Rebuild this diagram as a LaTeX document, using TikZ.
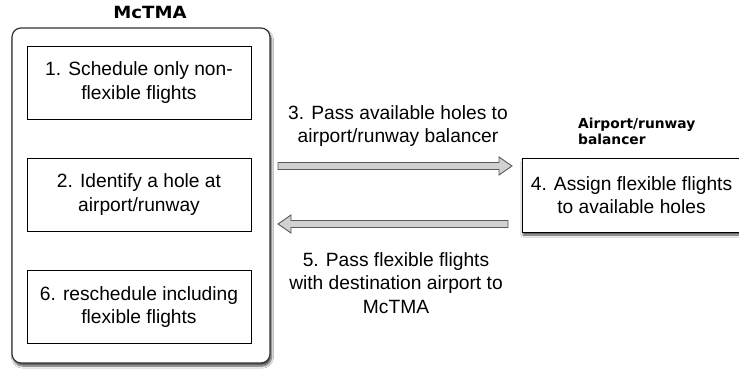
\documentclass[tikz,border=0pt]{standalone}
\usepackage{fontspec}
\setmainfont{Liberation Sans}
\newfontfamily\ttlfont[FakeStretch=1.08]{DejaVu Sans}
\newfontfamily\subfont{DejaVu Sans}
\usetikzlibrary{calc,shadows.blur}
\newcommand{\bodyfont}{\fontsize{19.2}{23.5}\selectfont}
\begin{document}
\begin{tikzpicture}[x=1pt,y=-1pt,
  panel/.style={draw=black!80, line width=1.2pt, rounded corners=9pt, fill=white,
    blur shadow={shadow xshift=1.5pt, shadow yshift=-3pt, shadow blur steps=6, shadow opacity=70}},
  stepbox/.style={draw=black, line width=0.8pt, fill=white, minimum width=224pt,
    minimum height=73pt, inner sep=0pt, align=center, font=\bodyfont},
  shadowed/.style={blur shadow={shadow xshift=1pt, shadow yshift=-3pt, shadow blur steps=6, shadow opacity=70}},
  lbl/.style={inner sep=0pt, align=center, font=\bodyfont},
  bigarrow/.style={draw=black!65, fill=black!18, line width=0.9pt, line join=miter},
]
\useasboundingbox (0,0) rectangle (739,377);
\clip (0,0) rectangle (739,377);
\fill[white] (0,0) rectangle (739,377);

% McTMA panel
\node[panel, minimum width=258pt, minimum height=335pt, inner sep=0pt] (mctma) at (141,195.5) {};
\node[inner sep=0pt, font=\ttlfont\bfseries\fontsize{16.8}{18}\selectfont] (mctmat) at (150,12) {McTMA};

\node[stepbox] (s1) at (139,82.5) {1. Schedule only non-\\flexible flights};
\node[stepbox] (s2) at (139,194.5) {2. Identify a hole at\\airport/runway};
\node[stepbox] (s6) at (139,307) {6. reschedule including\\flexible flights};

% balancer
\node[stepbox, shadowed, minimum width=219pt, minimum height=74pt] (bal) at (631.5,195) {4. Assign flexible flights\\to available holes};
\node[inner sep=0pt, anchor=west, align=left, font=\subfont\bfseries\fontsize{13.8}{16}\selectfont] (balt) at (578,131) {Airport/runway\\balancer};

% arrows
\coordinate (r1) at (278,166);
\coordinate (r2) at (512,166);
\coordinate (l1) at (508,224);
\coordinate (l2) at (278,224);
\draw[bigarrow] ($(r1)+(0,-3.5)$) -- ($(r2)+(-13,-3.5)$) -- ($(r2)+(-13,-9)$) -- (r2)
  -- ($(r2)+(-13,9)$) -- ($(r2)+(-13,3.5)$) -- ($(r1)+(0,3.5)$) -- cycle;
\draw[bigarrow] ($(l1)+(0,-3.5)$) -- ($(l2)+(13,-3.5)$) -- ($(l2)+(13,-9)$) -- (l2)
  -- ($(l2)+(13,9)$) -- ($(l2)+(13,3.5)$) -- ($(l1)+(0,3.5)$) -- cycle;

\node[lbl] (t3) at (398,126) {3. Pass available holes to\\airport/runway balancer};
\node[lbl] (t5) at (396,283) {5. Pass flexible flights\\with destination airport to\\McTMA};
\end{tikzpicture}
\end{document}
